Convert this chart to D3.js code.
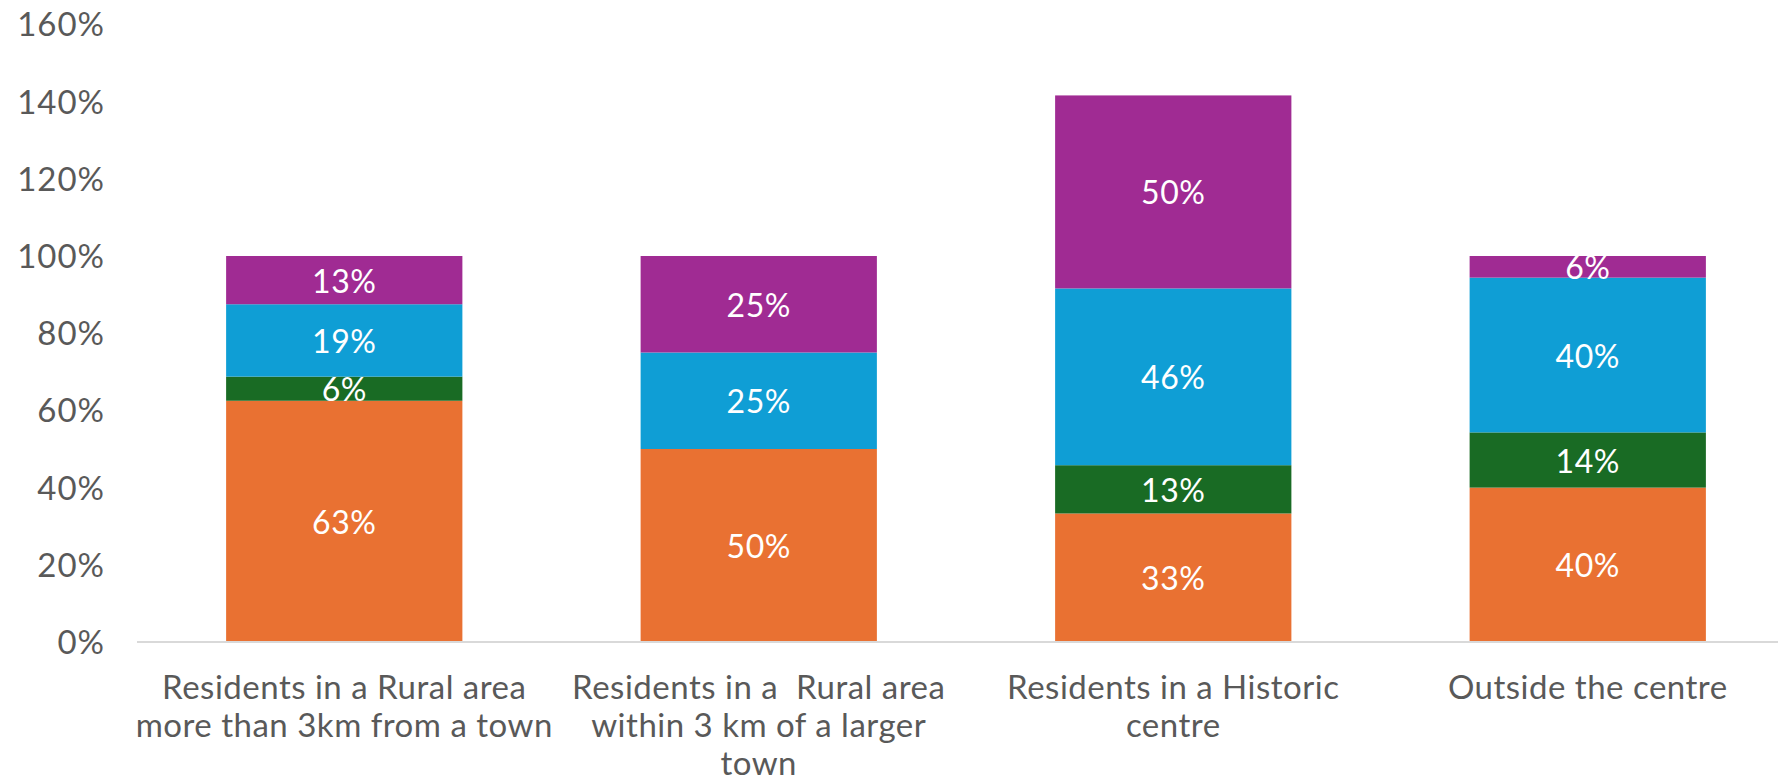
<!DOCTYPE html>
<html>
<head>
<meta charset="utf-8">
<script src="https://cdn.jsdelivr.net/npm/d3@7"></script>
<style>
  html, body { margin: 0; padding: 0; background: #fff; }
  svg { display: block; }
  text { font-family: "Lato", "Noto Sans", sans-serif; }
</style>
</head>
<body>
<svg id="chart" width="1778" height="778"></svg>
<script>
// ---- data ----
const categories = [
  ["Residents in a Rural area", "more than 3km from a town"],
  ["Residents in a  Rural area", "within 3 km of a larger", "town"],
  ["Residents in a Historic", "centre"],
  ["Outside the centre"]
];
const seriesNames = ["Orange", "Green", "Blue", "Purple"];
const orangeValues = [62.5, 50, 33.3, 40];
const greenValues  = [6.25, 0, 12.5, 14.3];
const blueValues   = [18.75, 25, 45.8, 40.1];
const purpleValues = [12.5, 25, 50, 5.6];
const yTicks = [0, 20, 40, 60, 80, 100, 120, 140, 160];
const seriesColors = ["#E97132", "#196B24", "#0F9ED5", "#A02B93"];

(function () {
// ---- build table ----
const allSeries = [orangeValues, greenValues, blueValues, purpleValues];
const rows = categories.map((c, i) => {
  const r = { key: i };
  seriesNames.forEach((s, j) => r[s] = allSeries[j][i]);
  return r;
});
const stacked = d3.stack().keys(seriesNames)(rows);

const svg = d3.select("#chart");
const mLeft = 137, mRight = 1795, mTop = 24.4, mBottom = 642;

const x = d3.scaleBand().domain(d3.range(categories.length))
  .range([mLeft, mRight]).paddingInner(0.43).paddingOuter(0.215);
const y = d3.scaleLinear().domain([0, 160]).range([mBottom, mTop]);

// bars
const layer = svg.append("g").selectAll("g").data(stacked).join("g")
  .attr("fill", (d, i) => seriesColors[i]);
layer.selectAll("rect").data(d => d).join("rect")
  .attr("x", (d, i) => x(i))
  .attr("width", x.bandwidth())
  .attr("y", d => y(d[1]))
  .attr("height", d => y(d[0]) - y(d[1]));

// data labels
const lab = svg.append("g");
stacked.forEach((s) => {
  s.forEach((d, i) => {
    const v = d[1] - d[0];
    if (v <= 0) return;
    lab.append("text")
      .attr("x", x(i) + x.bandwidth() / 2)
      .attr("y", (y(d[0]) + y(d[1])) / 2)
      .attr("text-anchor", "middle")
      .attr("dominant-baseline", "central")
      .attr("fill", "#fff")
      .attr("font-size", 32)
      .attr("letter-spacing", 0.5)
      .text(Math.round(v) + "%");
  });
});

// y axis (labels only)
const yAxis = d3.axisLeft(y).tickValues(yTicks).tickFormat(d => d + "%").tickSize(0).tickPadding(0);
const yg = svg.append("g").attr("transform", "translate(105,0)").call(yAxis);
yg.select(".domain").remove();
yg.selectAll("text").attr("fill", "#595959").attr("font-size", 33)
  .attr("letter-spacing", 1)
  .attr("font-family", "Lato, 'Noto Sans', sans-serif").attr("dy", "0.35em");

// x axis line
const xAxis = d3.axisBottom(x).tickSize(0).tickFormat("");
const xg = svg.append("g").attr("transform", `translate(0,${mBottom})`).call(xAxis);
xg.select(".domain").attr("stroke", "#D9D9D9").attr("stroke-width", 2)
  .attr("d", `M${mLeft},0H1778`);

// x labels
const xl = svg.append("g");
categories.forEach((lines, i) => {
  const t = xl.append("text")
    .attr("text-anchor", "middle")
    .attr("fill", "#595959")
    .attr("font-size", 33)
    .attr("letter-spacing", 0.5)
    .style("white-space", "pre");
  lines.forEach((ln, k) => {
    t.append("tspan")
      .attr("x", x(i) + x.bandwidth() / 2)
      .attr("y", 686 + k * 38)
      .attr("dominant-baseline", "central")
      .text(ln);
  });
});
})();
</script>
</body>
</html>
